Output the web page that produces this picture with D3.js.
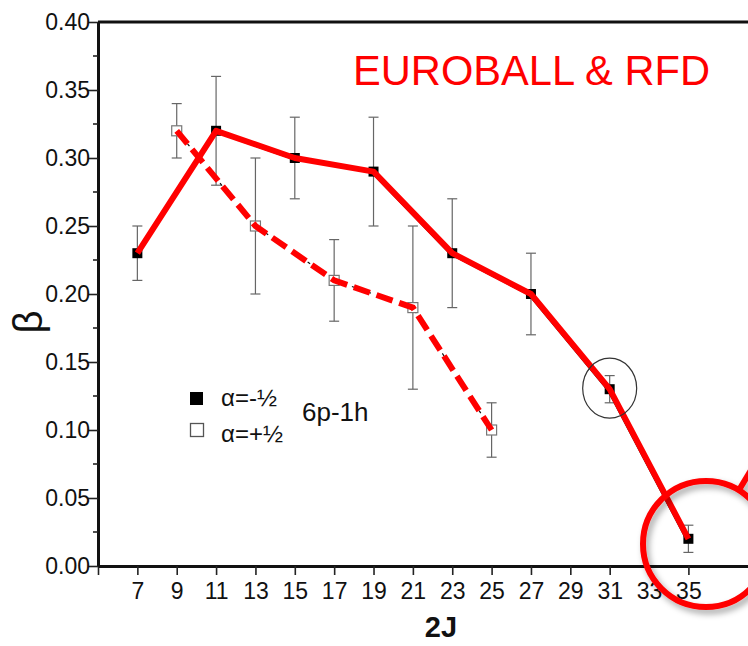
<!DOCTYPE html>
<html>
<head>
<meta charset="utf-8">
<script src="https://cdn.jsdelivr.net/npm/d3@7"></script>
<style>
  body { margin: 0; background: #fff; }
  text { font-family: "Liberation Sans", Arial, sans-serif; }
</style>
</head>
<body>
<div id="chart"></div>
<script>
// alpha = -1/2 (filled squares, solid red line)
const minusJ   = [7, 11, 15, 19, 23, 27, 31, 35] ;
const minusB   = [0.23, 0.32, 0.30, 0.29, 0.23, 0.20, 0.13, 0.02] ;
const minusLo  = [0.21, 0.28, 0.27, 0.25, 0.19, 0.17, 0.12, 0.01] ;
const minusHi  = [0.25, 0.36, 0.33, 0.33, 0.27, 0.23, 0.14, 0.03] ;

// alpha = +1/2 (open squares, dashed red line)
const plusJ    = [9, 13, 17, 21, 25] ;
const plusB    = [0.32, 0.25, 0.21, 0.19, 0.10] ;
const plusLo   = [0.30, 0.20, 0.18, 0.13, 0.08] ;
const plusHi   = [0.34, 0.30, 0.24, 0.25, 0.12] ;

const xTickVals   = [5, 7, 9, 11, 13, 15, 17, 19, 21, 23, 25, 27, 29, 31, 33, 35] ;
const yTickVals   = [0, 0.05, 0.10, 0.15, 0.20, 0.25, 0.30, 0.35, 0.40] ;
const yMinorVals  = [0.025, 0.075, 0.125, 0.175, 0.225, 0.275, 0.325, 0.375] ;

const toRows = (js, b, lo, hi) => js.map((j, i) => ({j: j, b: b[i], lo: lo[i], hi: hi[i]})) ;
const minusData = toRows(minusJ, minusB, minusLo, minusHi) ;
const plusData  = toRows(plusJ, plusB, plusLo, plusHi) ;

let dimensions = {
  width: 748,
  height: 646,
  margin: {top: 22, right: -20, bottom: 80, left: 98},
}
dimensions.boundedWidth = dimensions.width - dimensions.margin.left - dimensions.margin.right
dimensions.boundedHeight = dimensions.height - dimensions.margin.top - dimensions.margin.bottom

const svg = d3.select("#chart").append("svg")
    .attr("width", dimensions.width)
    .attr("height", dimensions.height)
;
const defs = svg.append("defs") ;
defs.append("filter").attr("id", "shadow")
    .attr("x", "-30%").attr("y", "-30%").attr("width", "160%").attr("height", "160%")
  .append("feDropShadow")
    .attr("dx", 3).attr("dy", 4).attr("stdDeviation", 3)
    .attr("flood-color", "#000").attr("flood-opacity", 0.35)
;

const bounds = svg.append("g")
    .attr("transform", `translate(${dimensions.margin.left},${dimensions.margin.top})`)
;

// x = 5 sits on the left axis, one unit ~ 19.7 px
const xScale = d3.scaleLinear()
  .domain([5, 5 + dimensions.boundedWidth / 19.68])
  .range([0, dimensions.boundedWidth])
;
const yScale = d3.scaleLinear()
  .domain([0, 0.40])
  .range([dimensions.boundedHeight, 0])
;

// frame (right side runs off the picture)
bounds.append("line")
    .attr("x1", 0).attr("x2", dimensions.boundedWidth)
    .attr("y1", 0).attr("y2", 0)
    .attr("stroke", "#111").attr("stroke-width", 3)
;

// axes
const xAxisGenerator = d3.axisBottom(xScale)
  .tickValues(xTickVals)
  .tickFormat(d => d == 5 ? "" : d)
  .tickSize(9)
  .tickSizeOuter(0)
;
const xAxis = bounds.append("g")
    .attr("transform", `translate(0,${dimensions.boundedHeight})`)
    .call(xAxisGenerator)
;
xAxis.select(".domain").attr("stroke-width", 3).attr("stroke", "#111") ;
xAxis.selectAll(".tick line").attr("stroke-width", 1.6).attr("stroke", "#222") ;
xAxis.selectAll(".tick text")
    .attr("font-size", 23).attr("fill", "#111").attr("dy", "0.9em")
    .attr("font-family", "Liberation Sans, Arial, sans-serif")
;

const yAxisGenerator = d3.axisLeft(yScale)
  .tickValues(yTickVals)
  .tickFormat(d3.format(".2f"))
  .tickSize(10)
  .tickSizeOuter(0)
;
const yAxis = bounds.append("g").call(yAxisGenerator) ;
yAxis.select(".domain").attr("stroke-width", 3).attr("stroke", "#111") ;
yAxis.selectAll(".tick line").attr("stroke-width", 1.6).attr("stroke", "#222") ;
yAxis.selectAll(".tick text")
    .attr("font-size", 23).attr("fill", "#111").attr("x", -8)
    .attr("font-family", "Liberation Sans, Arial, sans-serif")
;
bounds.append("g").selectAll("line")
  .data(yMinorVals)
  .enter().append("line")
    .attr("x1", -5).attr("x2", 0)
    .attr("y1", d => yScale(d)).attr("y2", d => yScale(d))
    .attr("stroke", "#222").attr("stroke-width", 1.6)
;

// axis titles
svg.append("text")
    .attr("transform", "translate(42,322) rotate(-90)")
    .attr("text-anchor", "middle")
    .attr("font-size", 40).attr("fill", "#111")
    .text("β")
;
svg.append("text")
    .attr("x", 441).attr("y", 637)
    .attr("text-anchor", "middle")
    .attr("font-size", 29).attr("font-weight", "bold").attr("fill", "#111")
    .text("2J")
;

// error bars
function drawErrors(data) {
  const g = bounds.append("g").attr("stroke", "#666").attr("stroke-width", 1.2) ;
  g.selectAll(".v").data(data).enter().append("line")
      .attr("x1", d => xScale(d.j)).attr("x2", d => xScale(d.j))
      .attr("y1", d => yScale(d.lo)).attr("y2", d => yScale(d.hi)) ;
  [d => d.lo, d => d.hi].forEach(acc => {
    g.selectAll(null).data(data).enter().append("line")
        .attr("x1", d => xScale(d.j) - 5).attr("x2", d => xScale(d.j) + 5)
        .attr("y1", d => yScale(acc(d))).attr("y2", d => yScale(acc(d))) ;
  }) ;
}
drawErrors(minusData) ;
drawErrors(plusData) ;

const lineGen = d3.line().x(d => xScale(d.j)).y(d => yScale(d.b)) ;

// original thin black lines under the red overlay
bounds.append("path").datum(minusData)
    .attr("d", lineGen).attr("fill", "none")
    .attr("stroke", "#111").attr("stroke-width", 1.5)
    .attr("transform", "translate(-2,1)")
;
bounds.append("path").datum(plusData)
    .attr("d", lineGen).attr("fill", "none")
    .attr("stroke", "#111").attr("stroke-width", 1.2)
    .attr("stroke-dasharray", "3 14")
;

// markers
bounds.selectAll(".filled").data(minusData).enter().append("rect")
    .attr("x", d => xScale(d.j) - 5).attr("y", d => yScale(d.b) - 5)
    .attr("width", 10).attr("height", 10)
    .attr("fill", "#000")
;
bounds.selectAll(".open").data(plusData).enter().append("rect")
    .attr("x", d => xScale(d.j) - 5).attr("y", d => yScale(d.b) - 5)
    .attr("width", 10).attr("height", 10)
    .attr("fill", "#fff").attr("stroke", "#777").attr("stroke-width", 1.2)
;

// red overlay lines
bounds.append("path").datum(minusData)
    .attr("d", lineGen).attr("fill", "none")
    .attr("stroke", "#ff0000").attr("stroke-width", 6)
    .attr("stroke-linejoin", "round")
;
bounds.append("path").datum(plusData)
    .attr("d", lineGen).attr("fill", "none")
    .attr("stroke", "#ff0000").attr("stroke-width", 6)
    .attr("stroke-dasharray", "17 7")
;

// legend
const legend = svg.append("g") ;
legend.append("rect").attr("x", 190).attr("y", 392).attr("width", 13).attr("height", 13).attr("fill", "#000") ;
legend.append("rect").attr("x", 190.5).attr("y", 423.5).attr("width", 13).attr("height", 13)
    .attr("fill", "#fff").attr("stroke", "#555").attr("stroke-width", 1.3) ;
legend.append("text").attr("x", 221).attr("y", 406).attr("font-size", 24).attr("fill", "#111").text("α=-½") ;
legend.append("text").attr("x", 221).attr("y", 442).attr("font-size", 24).attr("fill", "#111").text("α=+½") ;
legend.append("text").attr("x", 302).attr("y", 421).attr("font-size", 26).attr("fill", "#111").text("6p-1h") ;

// title
svg.append("text")
    .attr("x", 353).attr("y", 85)
    .attr("font-family", "'Comic Sans MS', 'DejaVu Sans', sans-serif")
    .attr("font-size", 42).attr("fill", "#ff0000")
    .attr("textLength", 357).attr("lengthAdjust", "spacingAndGlyphs")
    .text("EUROBALL & RFD")
;

// annotation circles
bounds.append("ellipse")
    .attr("cx", xScale(31)).attr("cy", yScale(0.13) - 1)
    .attr("rx", 27).attr("ry", 30)
    .attr("fill", "none").attr("stroke", "#333").attr("stroke-width", 1.2)
;
const redNote = svg.append("g").attr("filter", "url(#shadow)") ;
redNote.append("circle")
    .attr("cx", 706).attr("cy", 544).attr("r", 63)
    .attr("fill", "none").attr("stroke", "#ff0000").attr("stroke-width", 6)
;
redNote.append("line")
    .attr("x1", 739).attr("y1", 490).attr("x2", 762).attr("y2", 452)
    .attr("stroke", "#ff0000").attr("stroke-width", 6)
;
</script>
</body>
</html>
